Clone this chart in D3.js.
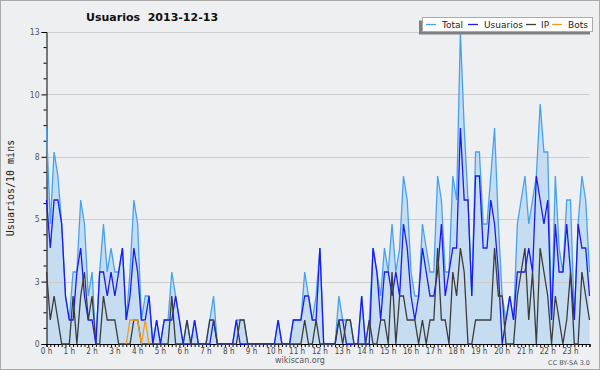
<!DOCTYPE html>
<html><head><meta charset="utf-8">
<script src="https://cdn.jsdelivr.net/npm/d3@7"></script>
<style>body{margin:0;background:#fff}svg{display:block}</style>
</head><body>
<svg id="c" width="600" height="370"></svg>
<script>
const title = "Usuarios  2013-12-13";
const yLabel = "Usuarios/10 mins";
const hourLabels = d3.range(24).map(h => h + " h");
const seriesNames = ["Total", "Usuarios", "IP", "Bots"];
const yTicks = [0, 2.6, 5.2, 7.8, 10.4, 13];
const total = [9,5,8,7,5,2,1,3,3,6, 5,2,3,0,3,5,3,4,3,3, 4,1,3,6,5,1,2,2,0,1, 0,1,1,3,2,1,0,1,0,1, 0,0,0,1,2,0,0,0,0,0, 1,1,1,0,0,0,0,0,0,0, 0,1,0,0,0,1,1,1,3,2, 1,2,4,0,0,0,0,2,1,1, 1,0,0,2,0,1,4,3,2,4, 3,5,3,4,7,6,3,2,2,5, 4,3,3,7,6,3,3,7,6,13, 9,6,2,8,8,5,5,7,9,5, 2,1,2,1,5,6,7,5,6,7, 10,8,8,1,7,4,3,6,6,1, 5,7,6,3];
const usuarios = [6,4,6,6,5,2,1,1,3,4, 2,1,1,0,3,3,2,3,2,3, 4,1,2,4,3,1,1,2,0,1, 0,1,1,1,2,1,0,0,0,1, 0,0,0,0,1,0,0,0,0,0, 1,0,0,0,0,0,0,0,0,0, 0,1,0,0,0,1,1,1,2,2, 1,1,4,0,0,0,0,1,1,0, 0,0,0,2,0,0,4,3,1,3, 3,2,3,2,5,4,2,1,2,4, 3,2,2,3,5,2,3,4,4,9, 6,6,2,7,7,4,4,6,5,3, 0,1,2,1,3,3,3,4,3,7, 6,5,6,1,5,3,3,5,3,1, 5,4,4,2];
const ip = [3,1,2,1,0,0,0,2,0,2, 3,1,2,0,0,2,1,1,1,0, 0,0,0,1,1,0,0,0,0,0, 0,0,0,2,0,0,0,1,0,0, 0,0,0,1,1,0,0,0,0,0, 0,1,1,0,0,0,0,0,0,0, 0,0,0,0,0,0,0,0,1,0, 0,1,0,0,0,0,0,1,0,1, 1,0,0,0,0,1,0,0,1,1, 0,3,0,2,2,1,1,1,0,1, 0,1,1,4,1,1,0,3,2,4, 3,0,0,1,1,1,1,1,4,2, 2,0,0,0,2,3,4,1,3,0, 4,3,2,0,2,1,0,1,3,0, 0,3,2,1];
const bots = [0,0,0,0,0,0,0,0,0,0, 0,0,0,0,0,0,0,0,0,0, 0,0,1,1,1,0,1,0,0,0, 0,0,0,0,0,0,0,0,0,0, 0,0,0,0,0,0,0,0,0,0, 0,0,0,0,0,0,0,0,0,0, 0,0,0,0,0,0,0,0,0,0, 0,0,0,0,0,0,0,0,0,0, 0,0,0,0,0,0,0,0,0,0, 0,0,0,0,0,0,0,0,0,0, 0,0,0,0,0,0,0,0,0,0, 0,0,0,0,0,0,0,0,0,0, 0,0,0,0,0,0,0,0,0,0, 0,0,0,0,0,0,0,0,0,0, 0,0,0,0];

const colors = {Total:"#46a2f0", Usuarios:"#1a1af5", IP:"#3c3c3c", Bots:"#f59a1c"};
const svg = d3.select("#c");
const W = 600, H = 370;
const L = 46.5, R = 589.5, T = 32, B = 344;
const n = total.length;
const x = d3.scaleLinear().domain([0, n - 1]).range([L, R]);
const y = d3.scaleLinear().domain([0, 13]).range([B, T]);

svg.append("rect").attr("x",0.5).attr("y",0.5).attr("width",W-1).attr("height",H-1)
  .attr("fill","#eeeff1").attr("stroke","#aaaaaa");

svg.append("path").datum(total)
  .attr("d", d3.area().x((d,i)=>x(i)).y0(B).y1(d=>y(d)))
  .attr("fill","#c6ddf1");

svg.append("g").selectAll("line").data(yTicks.slice(1)).join("line")
  .attr("x1",L).attr("x2",R).attr("y1",d=>Math.round(y(d))+0.5).attr("y2",d=>Math.round(y(d))+0.5)
  .attr("stroke","#cdcdd0").attr("stroke-width",1);

const yAxis = d3.axisLeft(y).tickValues(yTicks).tickFormat(d=>Math.round(d)).tickSize(5).tickPadding(2);
const gy = svg.append("g").attr("transform",`translate(${L},0)`).call(yAxis);
gy.select(".domain").attr("stroke","#000");
gy.selectAll(".tick line").attr("stroke","#000");
gy.selectAll("text").attr("font-family","'DejaVu Sans Condensed', 'DejaVu Sans'").attr("font-size",8.5).attr("fill","#555");
const minor = d3.range(0, 13.001, 0.65).filter(v => !yTicks.some(t => Math.abs(t - v) < 1e-6));
svg.append("g").selectAll("line").data(minor).join("line")
  .attr("x1",L-3).attr("x2",L).attr("y1",d=>y(d)).attr("y2",d=>y(d)).attr("stroke","#000");

const xAxis = d3.axisBottom(x).tickValues(d3.range(0, n)).tickFormat("").tickSize(3);
const gx = svg.append("g").attr("transform",`translate(0,${B})`).call(xAxis);
gx.select(".domain").attr("stroke","#000").attr("stroke-width",1.2);
gx.selectAll(".tick line").attr("stroke","#000");
svg.append("g").selectAll("text").data(hourLabels).join("text")
  .attr("x",(d,i)=>x(i*6)).attr("y",354).attr("text-anchor","middle")
  .attr("font-family","'DejaVu Sans Condensed', 'DejaVu Sans'").attr("font-size",8).attr("fill","#444")
  .text(d=>d);

const line = d3.line().x((d,i)=>x(i)).y(d=>y(d));
const data = {Total: total, Usuarios: usuarios, IP: ip, Bots: bots};
seriesNames.forEach(s => {
  if (s === "Bots") {
    svg.append("path").datum(bots)
      .attr("d", d3.line().defined((d,i)=> d>0 || (bots[i-1]>0) || (bots[i+1]>0)).x((d,i)=>x(i)).y(d=>y(d)))
      .attr("fill","none").attr("stroke",colors[s]).attr("stroke-width",1.3);
  } else {
    svg.append("path").datum(data[s]).attr("d", line)
      .attr("fill","none").attr("stroke",colors[s]).attr("stroke-width",1.3);
  }
});

svg.append("text").attr("x",86).attr("y",21).attr("font-family","'DejaVu Sans'")
  .attr("font-weight","bold").attr("font-size",11).attr("fill","#111")
  .style("white-space","pre").text(title);

svg.append("text").attr("transform","translate(13.5,188) rotate(-90)").attr("text-anchor","middle")
  .attr("font-family","'DejaVu Sans Mono'").attr("font-size",10).attr("fill","#222").text(yLabel);

svg.append("text").attr("x",300).attr("y",363).attr("text-anchor","middle")
  .attr("font-family","'DejaVu Sans'").attr("font-size",8).attr("fill","#555").text("wikiscan.org");
svg.append("text").attr("x",590).attr("y",365).attr("text-anchor","end")
  .attr("font-family","'DejaVu Sans'").attr("font-size",6.5).attr("fill","#555").text("CC BY-SA 3.0");

const lg = svg.append("g");
lg.append("rect").attr("x",419).attr("y",20.5).attr("width",171).attr("height",14).attr("fill","#808080");
lg.append("rect").attr("x",422.5).attr("y",17.5).attr("width",170).attr("height",14).attr("fill","#fff").attr("stroke","#aaa");
const items = [
  {name:"Total", sx:426, tx:442},
  {name:"Usuarios", sx:468, tx:484},
  {name:"IP", sx:526, tx:541},
  {name:"Bots", sx:552, tx:568}
];
items.forEach(it => {
  lg.append("line").attr("x1",it.sx).attr("x2",it.sx+10).attr("y1",24.5).attr("y2",24.5)
    .attr("stroke",colors[it.name]).attr("stroke-width",1.3);
  lg.append("text").attr("x",it.tx).attr("y",28).attr("font-family","'DejaVu Sans'")
    .attr("font-size",9).attr("fill","#222").text(it.name);
});
</script>
</body></html>
